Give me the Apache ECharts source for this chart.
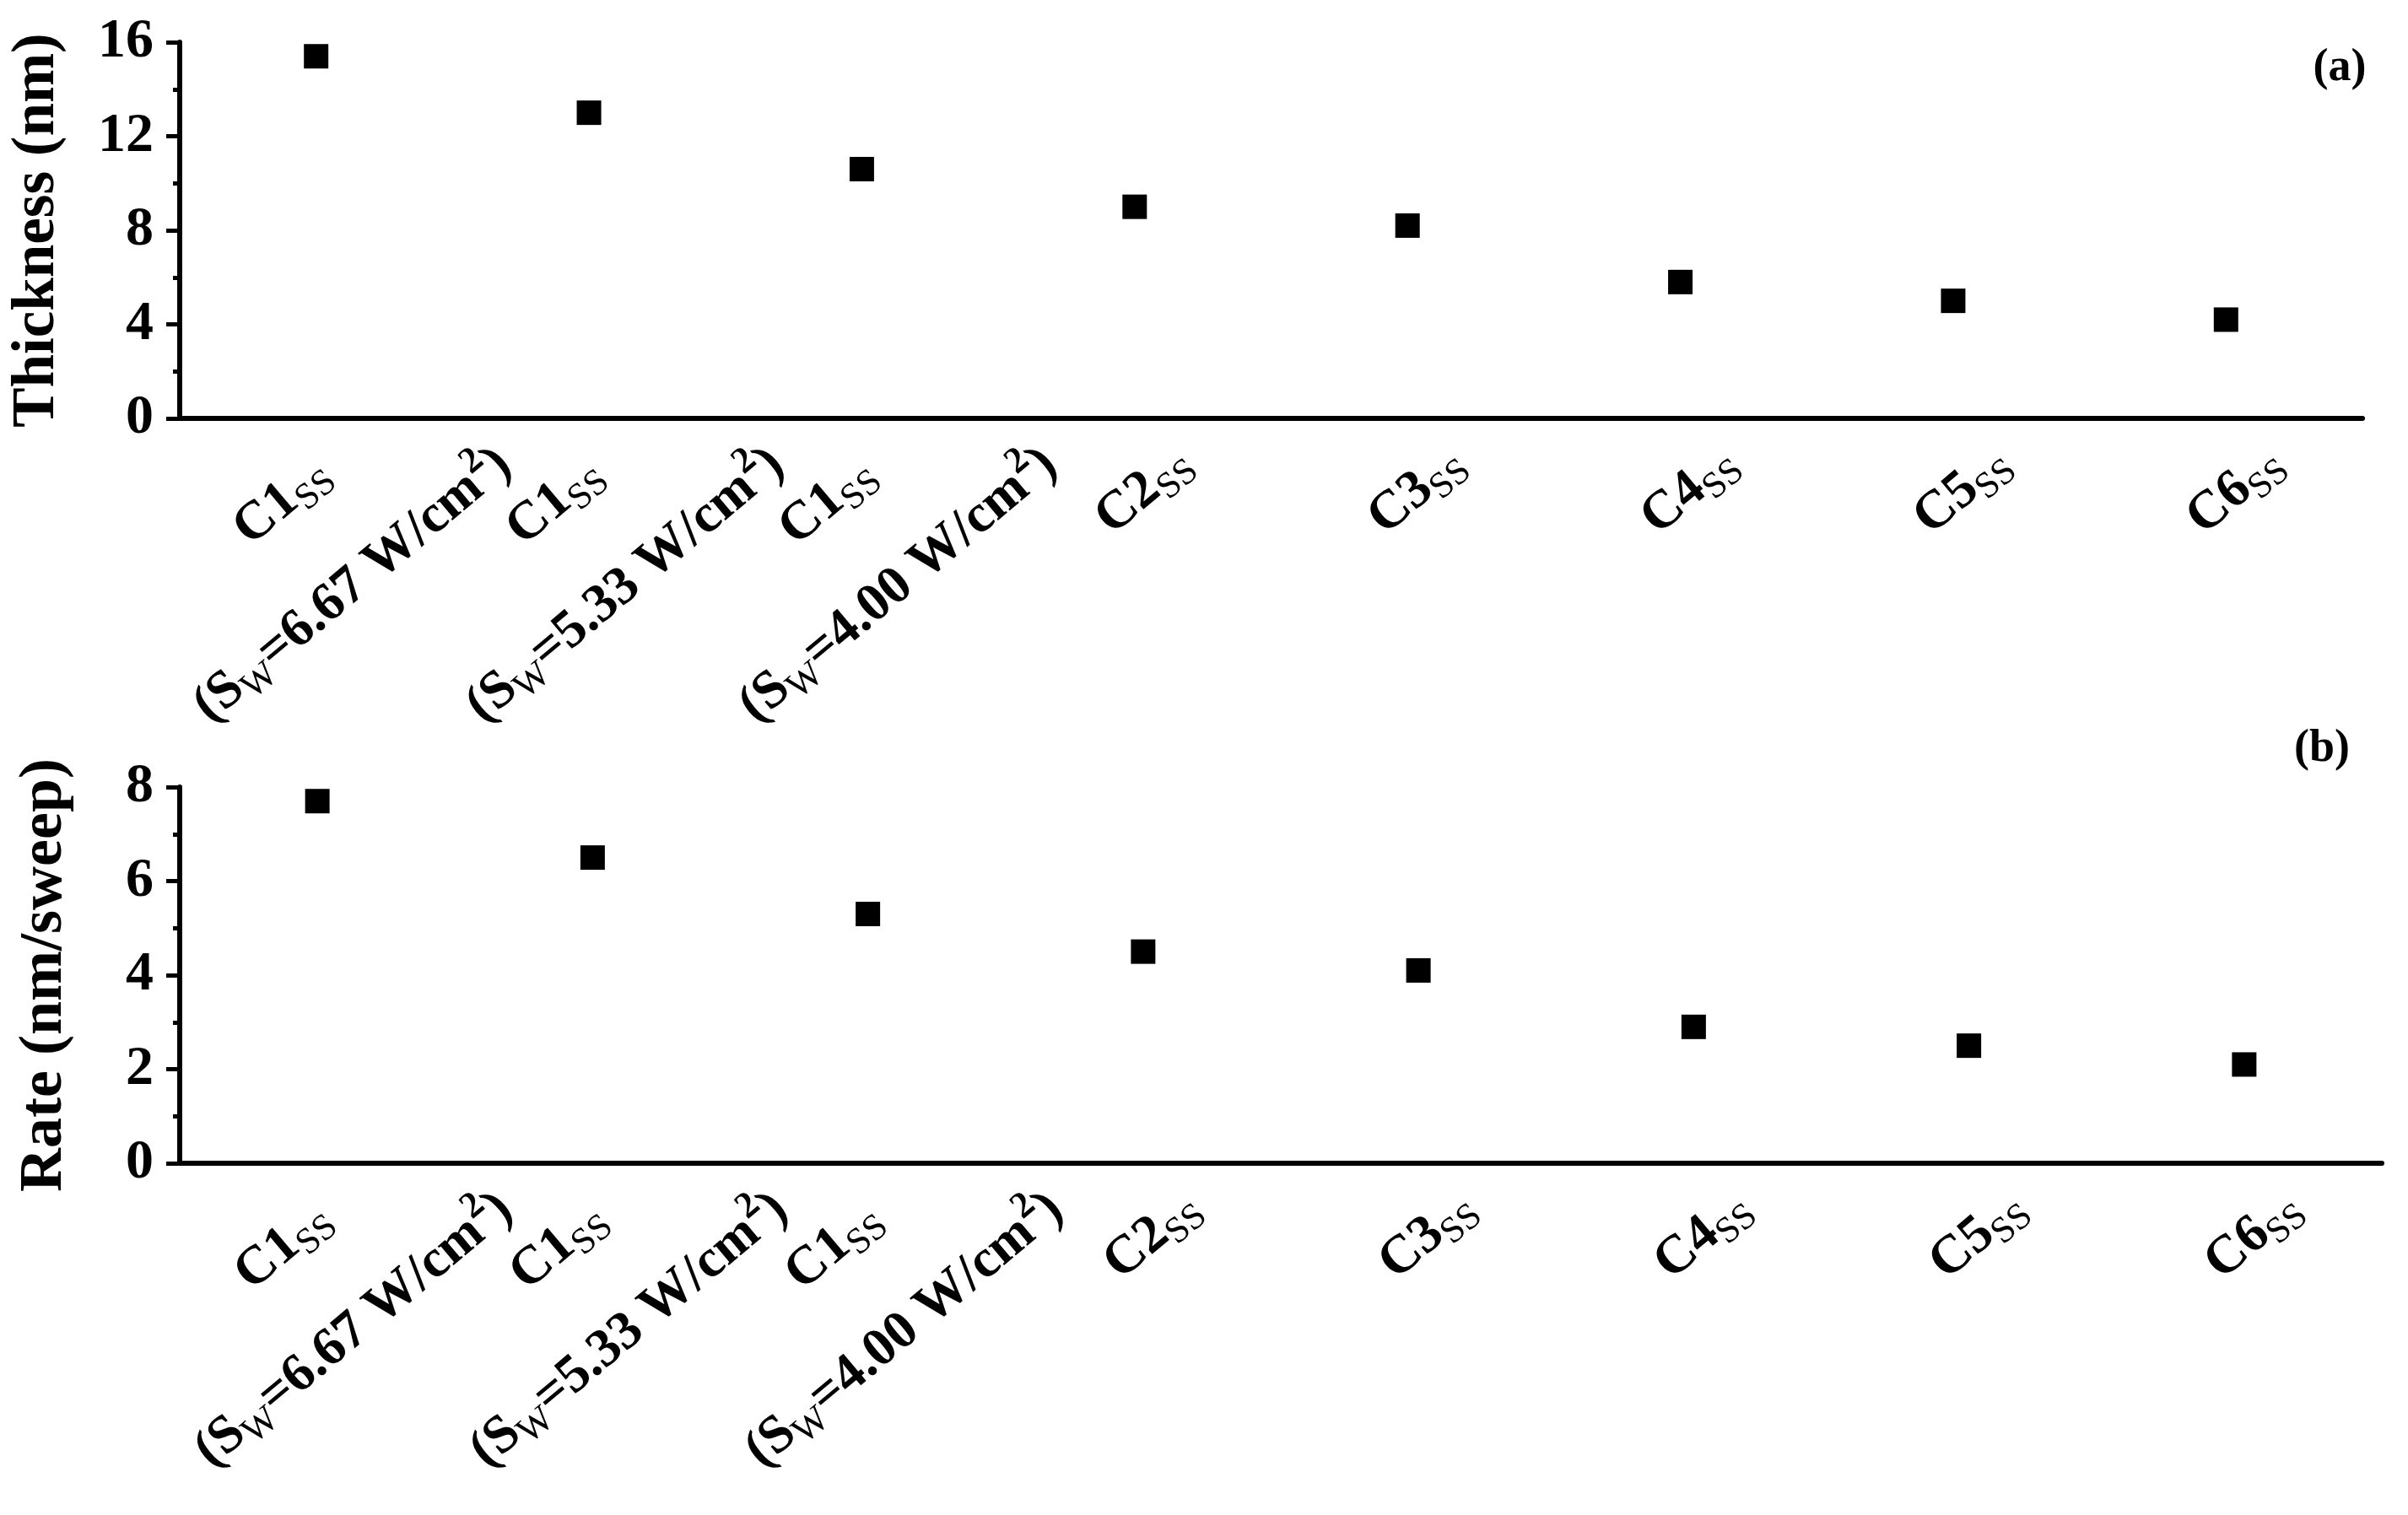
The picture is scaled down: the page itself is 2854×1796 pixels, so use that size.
<!DOCTYPE html>
<html>
<head>
<meta charset="utf-8">
<script src="https://cdn.jsdelivr.net/npm/echarts@6/dist/echarts.min.js"></script>
<style>html,body{margin:0;padding:0;background:#fff;}</style>
</head>
<body>
<div id="main" style="width:2854px;height:1796px;"></div>
<script>
// 样品名和扫描功率 (空的就是单行标签)
var sampleNames = ['C1', 'C1', 'C1', 'C2', 'C3', 'C4', 'C5', 'C6'];
var sweepPower = ['6.67', '5.33', '4.00', '', '', '', '', ''];
// (a) 厚度 nm
var thickness = [15.4, 13.0, 10.6, 9.0, 8.2, 5.8, 5.0, 4.2];
// (b) 速率 nm/sweep
var rate = [7.7, 6.5, 5.3, 4.5, 4.1, 2.9, 2.5, 2.1];
// y轴刻度
var thicknessMax = 16, thicknessStep = 4;
var rateMax = 8, rateStep = 2;

var FONT = 'Liberation Serif';

function catLabel(value, index) {
    var s = '{b|' + sampleNames[index] + '}{sub|SS}';
    if (sweepPower[index]) {
        s += '\n{b|(S}{sub|W}{b|=' + sweepPower[index] + ' W/cm}{sup|2}{b|)}';
    }
    return s;
}

// 每个标签单独给个padding，让位置跟原图差不多
// 注意 align / verticalAlign 也要写在这里, 不然不继承
var catData = sampleNames.map(function (n, i) {
    return {
        value: 'c' + i,
        textStyle: {
            align: 'center',
            verticalAlign: 'top',
            padding: sweepPower[i] ? [-42, 143, 0, 0] : [-19, 48, 0, 0]
        }
    };
});

function xAxisOpt(gridIndex) {
    return {
        type: 'category',
        gridIndex: gridIndex,
        data: catData,
        boundaryGap: true,
        axisLine: { lineStyle: { color: '#000', width: 6 } },
        axisTick: { alignWithLabel: true, length: 13, lineStyle: { color: '#000', width: 5 } },
        axisLabel: {
            interval: 0,
            rotate: 40,
            margin: 35,
            align: 'center',
            verticalAlign: 'top',
            formatter: catLabel,
            rich: {
                b: { fontFamily: FONT, fontWeight: 'bold', fontSize: 64, lineHeight: 130, color: '#000', align: 'center' },
                // 上下标用padding挪位置 (上padding往下, 下padding往上)
                sub: { fontFamily: FONT, fontWeight: 'normal', fontSize: 44, lineHeight: 130, padding: [32, 0, 0, 0], color: '#000', align: 'center' },
                sup: { fontFamily: FONT, fontWeight: 'bold', fontSize: 44, lineHeight: 130, padding: [0, 0, 44, 0], color: '#000', align: 'center' }
            }
        },
        splitLine: { show: false }
    };
}

function yAxisOpt(gridIndex, name, max, step, gap, nameSize) {
    return {
        type: 'value',
        gridIndex: gridIndex,
        min: 0,
        max: max,
        interval: step,
        name: name,
        nameLocation: 'middle',
        nameGap: gap,
        nameTextStyle: { fontFamily: FONT, fontWeight: 'bold', fontSize: nameSize, color: '#000' },
        axisLine: { show: true, lineStyle: { color: '#000', width: 6 } },
        axisTick: { show: true, length: 16, lineStyle: { color: '#000', width: 5 } },
        minorTick: { show: true, splitNumber: 2, length: 8, lineStyle: { color: '#000', width: 5 } },
        axisLabel: { margin: 31, fontFamily: FONT, fontWeight: 'bold', fontSize: 66, color: '#000' },
        splitLine: { show: false }
    };
}

var myChart = echarts.init(document.getElementById('main'));
myChart.setOption({
    backgroundColor: '#fff',
    animation: false,
    grid: [
        { left: 213, top: 50, width: 2587, height: 446, outerBoundsMode: 'none' },
        { left: 213, top: 933, width: 2610, height: 446, outerBoundsMode: 'none' }
    ],
    xAxis: [xAxisOpt(0), xAxisOpt(1)],
    yAxis: [
        yAxisOpt(0, 'Thickness (nm)', thicknessMax, thicknessStep, 133, 71),
        yAxisOpt(1, 'Rate (nm/sweep)', rateMax, rateStep, 124, 72)
    ],
    graphic: [
        { type: 'text', x: 2773, y: 81, style: { text: '(a)', fontFamily: FONT, fontWeight: 'bold', fontSize: 54, fill: '#000', textAlign: 'center', textVerticalAlign: 'middle' } },
        { type: 'text', x: 2752, y: 888, style: { text: '(b)', fontFamily: FONT, fontWeight: 'bold', fontSize: 54, fill: '#000', textAlign: 'center', textVerticalAlign: 'middle' } }
    ],
    series: [
        {
            name: 'Thickness',
            type: 'scatter',
            xAxisIndex: 0,
            yAxisIndex: 0,
            symbol: 'rect',
            symbolSize: 29,
            itemStyle: { color: '#000', opacity: 1 },
            data: thickness
        },
        {
            name: 'Rate',
            type: 'scatter',
            xAxisIndex: 1,
            yAxisIndex: 1,
            symbol: 'rect',
            symbolSize: 29,
            itemStyle: { color: '#000', opacity: 1 },
            data: rate
        }
    ]
});
</script>
</body>
</html>
